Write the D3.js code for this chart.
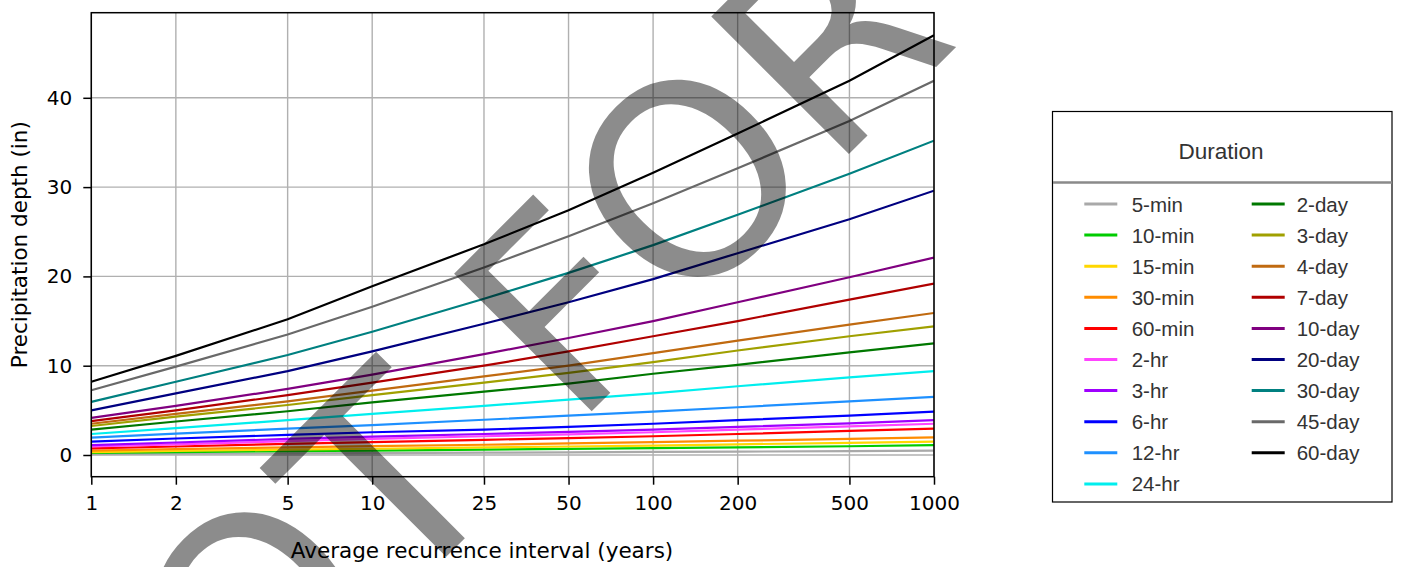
<!DOCTYPE html>
<html>
<head>
<meta charset="utf-8">
<script src="https://cdn.jsdelivr.net/npm/d3@7"></script>
<style>
  html, body { margin: 0; padding: 0; background: #fff; }
  svg { display: block; }
</style>
</head>
<body>
<svg id="chart" width="1402" height="567"></svg>
<script>
// ---- Data ----
const returnPeriods = [1, 2, 5, 10, 25, 50, 100, 200, 500, 1000];
const xTickLabels = ["1", "2", "5", "10", "25", "50", "100", "200", "500", "1000"];
const yTicks = [0, 10, 20, 30, 40];

const durations = ["5-min", "10-min", "15-min", "30-min", "60-min", "2-hr", "3-hr", "6-hr", "12-hr", "24-hr",
                   "2-day", "3-day", "4-day", "7-day", "10-day", "20-day", "30-day", "45-day", "60-day"];
const durationColors = ["#a9a9a9", "#00cc00", "#ffd700", "#ff8c00", "#ff0000", "#ff44ff", "#9f00ff", "#0000ff", "#1e90ff", "#00eeee",
                        "#007800", "#a0a000", "#c06a10", "#b00000", "#800080", "#000080", "#008080", "#696969", "#000000"];

const depth5min  = [0.10, 0.14, 0.18, 0.21, 0.26, 0.30, 0.34, 0.38, 0.44, 0.48];
const depth10min = [0.23, 0.33, 0.42, 0.50, 0.60, 0.68, 0.77, 0.86, 0.98, 1.10];
const depth15min = [0.33, 0.45, 0.60, 0.70, 0.85, 0.95, 1.05, 1.20, 1.35, 1.50];
const depth30min = [0.50, 0.65, 0.85, 1.00, 1.15, 1.30, 1.45, 1.60, 1.80, 1.97];
const depth60min = [0.75, 0.95, 1.25, 1.45, 1.70, 1.90, 2.10, 2.35, 2.70, 2.95];
const depth2hr   = [0.95, 1.20, 1.55, 1.80, 2.10, 2.30, 2.55, 2.85, 3.20, 3.50];
const depth3hr   = [1.10, 1.40, 1.80, 2.05, 2.35, 2.60, 2.85, 3.15, 3.55, 3.90];
const depth6hr   = [1.50, 1.85, 2.25, 2.55, 2.85, 3.15, 3.50, 3.90, 4.40, 4.85];
const depth12hr  = [1.95, 2.40, 2.95, 3.35, 3.95, 4.40, 4.85, 5.35, 6.00, 6.50];
const depth24hr  = [2.35, 3.00, 3.90, 4.60, 5.50, 6.20, 6.90, 7.70, 8.70, 9.40];
const depth2day  = [2.85, 3.75, 4.90, 5.90, 7.10, 8.00, 9.10, 10.1, 11.5, 12.5];
const depth3day  = [3.25, 4.30, 5.60, 6.70, 8.10, 9.20, 10.4, 11.7, 13.3, 14.4];
const depth4day  = [3.50, 4.60, 6.00, 7.20, 8.80, 10.0, 11.4, 12.8, 14.6, 15.9];
const depth7day  = [3.80, 5.00, 6.70, 8.10, 10.0, 11.6, 13.3, 15.0, 17.4, 19.2];
const depth10day = [4.15, 5.50, 7.40, 9.00, 11.3, 13.1, 15.0, 17.1, 19.9, 22.1];
const depth20day = [5.00, 6.90, 9.40, 11.6, 14.7, 17.1, 19.7, 22.6, 26.4, 29.6];
const depth30day = [5.95, 8.20, 11.2, 13.8, 17.5, 20.4, 23.5, 26.9, 31.5, 35.2];
const depth45day = [7.25, 9.90, 13.5, 16.6, 21.0, 24.5, 28.2, 32.1, 37.4, 41.9];
const depth60day = [8.20, 11.1, 15.2, 18.9, 23.6, 27.4, 31.6, 36.0, 41.9, 47.0];

const depthSeries = [depth5min, depth10min, depth15min, depth30min, depth60min, depth2hr, depth3hr, depth6hr,
                     depth12hr, depth24hr, depth2day, depth3day, depth4day, depth7day, depth10day, depth20day,
                     depth30day, depth45day, depth60day];

const series = durations.map((name, i) => ({ name, color: durationColors[i], values: depthSeries[i] }));

// ---- Layout ----
const svg = d3.select("#chart");
svg.append("rect").attr("width", 1402).attr("height", 567).attr("fill", "#fff");

const plot = { left: 91.3, right: 934, top: 12.7, bottom: 476.7 };
const x = d3.scaleLog().domain([1, 1000]).range([plot.left, plot.right]);
const y = d3.scaleLinear().domain([-2.43, 49.53]).range([plot.bottom, plot.top]);

const tickFont = "'DejaVu Sans', sans-serif";

// grid
const grid = svg.append("g").attr("stroke", "#b0b0b0").attr("stroke-width", 1.4);
grid.selectAll("line.v").data(returnPeriods).join("line")
  .attr("x1", d => x(d)).attr("x2", d => x(d)).attr("y1", plot.top).attr("y2", plot.bottom);
grid.selectAll("line.h").data(yTicks).join("line")
  .attr("y1", d => y(d)).attr("y2", d => y(d)).attr("x1", plot.left).attr("x2", plot.right);

// clip
svg.append("clipPath").attr("id", "clip").append("rect")
  .attr("x", plot.left).attr("y", plot.top)
  .attr("width", plot.right - plot.left).attr("height", plot.bottom - plot.top);

const line = d3.line().x((d, i) => x(returnPeriods[i])).y(d => y(d));
svg.append("g").attr("clip-path", "url(#clip)")
  .selectAll("path").data(series).join("path")
  .attr("d", d => line(d.values))
  .attr("fill", "none")
  .attr("stroke", d => d.color)
  .attr("stroke-width", 2.2);

// axes
const xAxis = d3.axisBottom(x).tickValues(returnPeriods)
  .tickFormat((d, i) => xTickLabels[i]).tickSize(8).tickPadding(11);
const yAxis = d3.axisLeft(y).tickValues(yTicks).tickFormat(d3.format("d")).tickSize(8).tickPadding(11);

const gx = svg.append("g").attr("transform", `translate(0,${plot.bottom})`).call(xAxis);
const gy = svg.append("g").attr("transform", `translate(${plot.left},0)`).call(yAxis);
[gx, gy].forEach(g => {
  g.select(".domain").remove();
  g.selectAll(".tick line").attr("stroke", "#000").attr("stroke-width", 1.5);
  g.selectAll(".tick text").attr("font-family", tickFont).attr("font-size", 20).attr("fill", "#000");
});

// spines
svg.append("rect")
  .attr("x", plot.left).attr("y", plot.top)
  .attr("width", plot.right - plot.left).attr("height", plot.bottom - plot.top)
  .attr("fill", "none").attr("stroke", "#000").attr("stroke-width", 1.5);

// axis labels
svg.append("text")
  .attr("x", 482).attr("y", 558)
  .attr("text-anchor", "middle")
  .attr("font-family", tickFont).attr("font-size", 21.5).attr("fill", "#000")
  .text("Average recurrence interval (years)");
svg.append("text")
  .attr("transform", `translate(27,${(plot.top + plot.bottom) / 2}) rotate(-90)`)
  .attr("text-anchor", "middle")
  .attr("font-family", tickFont).attr("font-size", 21.5).attr("fill", "#000")
  .text("Precipitation depth (in)");

// watermark
svg.append("text")
  .attr("transform", "translate(108,895) rotate(-45)")
  .attr("font-family", "'DejaVu Sans', sans-serif")
  .attr("font-size", 267)
  .attr("fill", "#000").attr("fill-opacity", 0.45)
  .text("NOT FOR");

// legend
const legendFont = "'Liberation Sans', Arial, sans-serif";
const lg = svg.append("g");
lg.append("rect").attr("x", 1052.5).attr("y", 111.5).attr("width", 339.5).attr("height", 390.5)
  .attr("fill", "#fff").attr("stroke", "#000").attr("stroke-width", 1.2);
lg.append("text").attr("x", 1221).attr("y", 151).attr("text-anchor", "middle")
  .attr("dominant-baseline", "central")
  .attr("font-family", legendFont).attr("font-size", 22.5).attr("fill", "#333").text("Duration");
lg.append("line").attr("x1", 1053).attr("x2", 1392).attr("y1", 182.5).attr("y2", 182.5)
  .attr("stroke", "#8a8a8a").attr("stroke-width", 2.5);

const rowsPerCol = 10;
const entries = lg.selectAll("g.entry").data(series).join("g")
  .attr("transform", (d, i) => {
    const col = Math.floor(i / rowsPerCol);
    const row = i % rowsPerCol;
    return `translate(${col === 0 ? 1084.3 : 1251.7},${204 + row * 31.1})`;
  });
entries.append("line").attr("x1", 0).attr("x2", 33).attr("y1", 0).attr("y2", 0)
  .attr("stroke", d => d.color).attr("stroke-width", 3);
entries.append("text").attr("x", (d, i) => i < rowsPerCol ? 47.4 : 45)
  .attr("y", 0).attr("dominant-baseline", "central")
  .attr("font-family", legendFont).attr("font-size", 20.5).attr("fill", "#333")
  .text(d => d.name);
</script>
</body>
</html>
